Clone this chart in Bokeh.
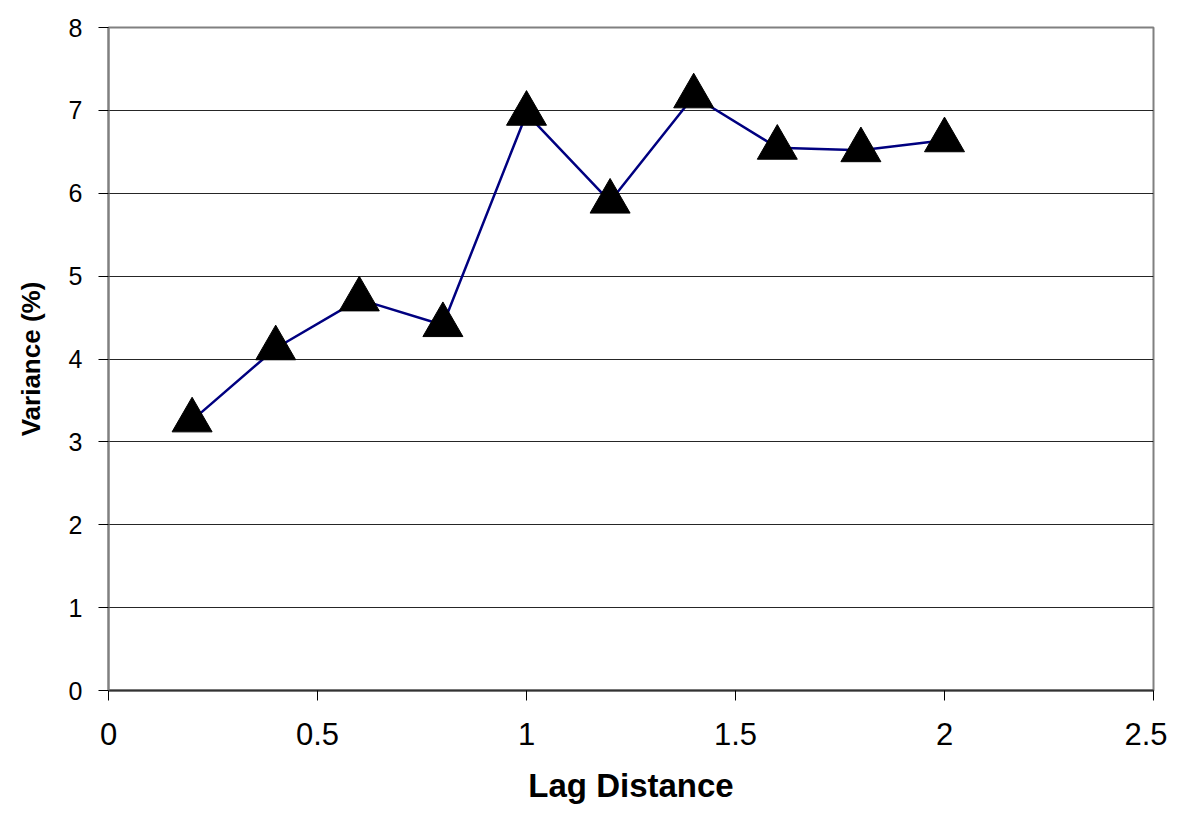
from bokeh.plotting import figure
from bokeh.models import Range1d, FixedTicker
from bokeh.embed import file_html
from bokeh.resources import INLINE

# Data
lag_distance = [0.2, 0.4, 0.6, 0.8, 1.0, 1.2, 1.4, 1.6, 1.8, 2.0]
variance = [3.26, 4.13, 4.72, 4.41, 6.96, 5.90, 7.17, 6.55, 6.52, 6.64]

x_ticks = [0, 0.5, 1, 1.5, 2, 2.5]
x_tick_labels = ["0", "0.5", "1", "1.5", "2", "2.5"]
y_ticks = [0, 1, 2, 3, 4, 5, 6, 7, 8]
y_tick_labels = ["0", "1", "2", "3", "4", "5", "6", "7", "8"]

FONT = "Liberation Sans"

p = figure(width=1167, height=806, output_backend="svg", toolbar_location=None,
           x_range=Range1d(0, 2.5), y_range=Range1d(0, 8),
           min_border_left=108, min_border_right=14,
           min_border_top=27, min_border_bottom=115)

p.background_fill_color = "white"
p.border_fill_color = "white"
p.outline_line_color = "#808080"
p.outline_line_width = 2

# grid
p.xgrid.grid_line_color = None
p.ygrid.grid_line_color = "#000000"
p.ygrid.grid_line_width = 1
p.ygrid.grid_line_alpha = 0.85

# x axis
p.xaxis.ticker = FixedTicker(ticks=x_ticks)
p.xaxis.major_label_overrides = {t: l for t, l in zip(x_ticks, x_tick_labels)}
p.xaxis.axis_label = "Lag Distance"
p.xaxis.axis_label_text_font = FONT
p.xaxis.axis_label_text_font_style = "bold"
p.xaxis.axis_label_text_font_size = "33px"
p.xaxis.axis_label_text_color = "black"
p.xaxis.axis_label_standoff = 19
p.xaxis.major_label_text_font = FONT
p.xaxis.major_label_text_font_size = "31px"
p.xaxis.major_label_text_color = "black"
p.xaxis.major_label_standoff = 22
p.xaxis.axis_line_color = "#333333"
p.xaxis.axis_line_width = 2
p.xaxis.major_tick_line_color = "#000000"
p.xaxis.major_tick_out = 10
p.xaxis.major_tick_in = 0
p.xaxis.minor_tick_line_color = None

# y axis
p.yaxis.ticker = FixedTicker(ticks=y_ticks)
p.yaxis.major_label_overrides = {t: l for t, l in zip(y_ticks, y_tick_labels)}
p.yaxis.axis_label = "Variance (%)"
p.yaxis.axis_label_text_font = FONT
p.yaxis.axis_label_text_font_style = "bold"
p.yaxis.axis_label_text_font_size = "26px"
p.yaxis.axis_label_text_color = "black"
p.yaxis.axis_label_standoff = 20
p.yaxis.major_label_text_font = FONT
p.yaxis.major_label_text_font_size = "25px"
p.yaxis.major_label_text_color = "black"
p.yaxis.major_label_standoff = 16
p.yaxis.axis_line_color = "#808080"
p.yaxis.axis_line_width = 2
p.yaxis.major_tick_line_color = "#000000"
p.yaxis.major_tick_out = 10
p.yaxis.major_tick_in = 0
p.yaxis.minor_tick_line_color = None

p.line(lag_distance, variance, line_color="#000080", line_width=2.5)
p.scatter(lag_distance, variance, marker="triangle", size=40,
          fill_color="black", line_color="black")

open("out.html", "w").write(file_html(p, INLINE))
